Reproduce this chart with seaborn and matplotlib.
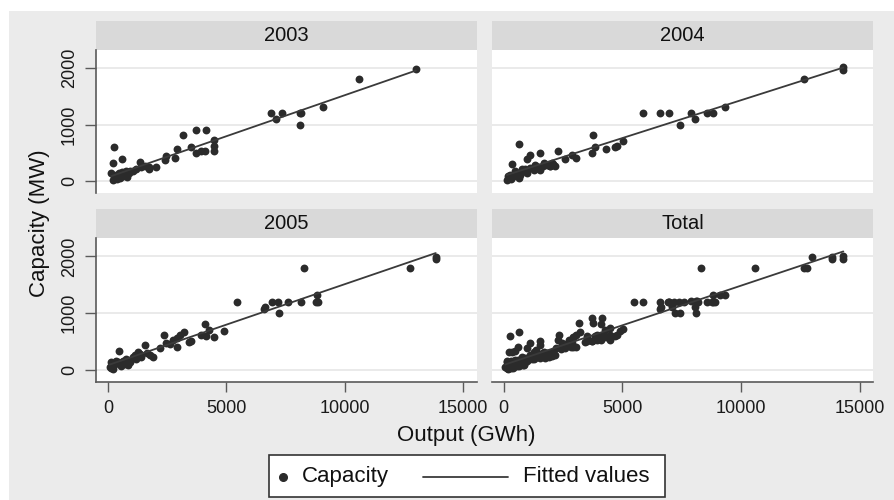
import numpy as np
import pandas as pd
import matplotlib
matplotlib.use("Agg")
import matplotlib.pyplot as plt
from matplotlib.patches import Rectangle
from matplotlib.lines import Line2D
import seaborn as sns

# ---------------- data ----------------
out03 = [13000, 10600, 9100, 8100, 8150, 8100, 6900, 7370, 7100, 4500, 4470, 4470, 3730, 4130,
         3170, 3740, 3950, 4090, 3500, 2920, 2470, 2820, 2400, 2040, 1730, 1730, 1370, 1410, 1200,
         1550, 1060, 280, 210, 590, 140, 210, 350, 420, 480, 550, 600, 650, 700, 780, 850, 900,
         300, 500, 750, 820, 950, 250, 400, 660]
cap03 = [1980, 1800, 1320, 1210, 1210, 1000, 1200, 1200, 1100, 730, 620, 530, 910, 910,
         820, 500, 530, 530, 600, 570, 440, 410, 370, 250, 210, 260, 350, 250, 210,
         280, 190, 600, 320, 400, 150, 30, 120, 80, 150, 100, 170, 90, 130, 110, 160, 140,
         60, 60, 180, 80, 190, 100, 40, 140]

out04 = [14300, 14300, 12650, 9300, 8830, 8550, 7890, 8060, 7430, 5860, 6590, 6970, 5020, 4700,
         4760, 4320, 3780, 3850, 3710, 3060, 2870, 2590, 2270, 1540, 1120, 980, 670, 350, 1940,
         2030, 140, 280, 560, 840, 1120, 1400, 1680, 1960, 2170, 420, 700, 980, 1260, 210, 490,
         770, 1330, 1820, 630, 1540, 180, 320, 900, 1450, 1700, 2100]
cap04 = [2010, 1960, 1800, 1320, 1200, 1200, 1210, 1100, 1000, 1200, 1200, 1200, 720, 600,
         620, 570, 820, 600, 500, 410, 470, 390, 530, 500, 470, 390, 660, 310, 265,
         320, 30, 120, 150, 180, 235, 235, 275, 275, 265, 90, 120, 150, 195, 60, 175,
         220, 295, 295, 60, 205, 90, 40, 210, 260, 320, 300]

out05 = [13840, 13840, 12750, 8290, 8810, 8780, 8880, 8170, 7610, 7190, 6950, 7230, 6620, 6580,
         5470, 4900, 4480, 4090, 4270, 3950, 4160, 3520, 3430, 3200, 3030, 2920, 2920, 2350,
         2610, 2190, 1900, 1760, 1550, 1270, 1410, 1200, 1060, 470, 750, 70, 140, 280, 420, 570,
         710, 850, 920, 330, 640, 200, 150, 1130, 1350, 1650, 2450, 2750]
cap05 = [1990, 1960, 1790, 1790, 1320, 1190, 1190, 1190, 1190, 1190, 1190, 1000, 1100, 1080,
         1190, 690, 580, 810, 710, 610, 600, 500, 490, 660, 610, 560, 400, 610,
         460, 380, 220, 260, 440, 310, 220, 190, 220, 330, 190, 50, 130, 90, 130, 60,
         100, 80, 130, 160, 160, 20, 40, 260, 280, 300, 470, 520]

panels = ["2003", "2004", "2005", "Total"]
x_ticks = [0, 5000, 10000, 15000]
y_ticks = [0, 1000, 2000]
x_label = "Output (GWh)"
y_label = "Capacity (MW)"
legend_labels = ["Capacity", "Fitted values"]

frames = []
for yr, o, c in [("2003", out03, cap03), ("2004", out04, cap04), ("2005", out05, cap05)]:
    frames.append(pd.DataFrame({"output": o, "capacity": c, "panel": yr}))
df_years = pd.concat(frames, ignore_index=True)
df_total = df_years.assign(panel="Total")
df = pd.concat([df_years, df_total], ignore_index=True)

# ---------------- styling ----------------
sns.set_style("white")
plt.rcParams["font.family"] = ["Liberation Sans", "DejaVu Sans"]

W, H = 895, 500
fig = plt.figure(figsize=(W / 100, H / 100), dpi=100, facecolor="white")
BG = "#ebebeb"
STRIP = "#d9d9d9"
DOT = "#2b2b2b"
LINE = "#3a3a3a"
AX = "#5a5a5a"

fig.patches.append(Rectangle((9 / W, 0), 1 - 9 / W, 1 - 11 / H, transform=fig.transFigure,
                             facecolor=BG, edgecolor="none", zorder=-10))

def fbox(x0, y0, x1, y1):
    return [x0 / W, 1 - y1 / H, (x1 - x0) / W, (y1 - y0) / H]

boxes = {
    "2003": fbox(96, 50, 476.7, 193.3),
    "2004": fbox(491.7, 50, 873.5, 193.3),
    "2005": fbox(96, 238.3, 476.7, 381.7),
    "Total": fbox(491.7, 238.3, 873.5, 381.7),
}
strip_px = 29

for i, p in enumerate(panels):
    ax = fig.add_axes(boxes[p])
    sub = df[df["panel"] == p]
    sns.regplot(data=sub, x="output", y="capacity", ax=ax, ci=None, truncate=True,
                scatter_kws=dict(s=32, color=DOT, linewidths=0, alpha=1, zorder=3),
                line_kws=dict(color=LINE, lw=1.3, zorder=4))
    ax.set_facecolor("white")
    ax.set_xlim(-500, 15570)
    ax.set_ylim(-210, 2318)
    ax.set_xticks(x_ticks)
    ax.set_yticks(y_ticks)
    ax.set_xlabel("")
    ax.set_ylabel("")
    for yv in y_ticks:
        ax.axhline(yv, color="#e6e6e6", lw=1.2, zorder=0)
    for s in ["top", "right"]:
        ax.spines[s].set_visible(False)
    left_col = i % 2 == 0
    bottom_row = i >= 2
    ax.spines["left"].set_visible(left_col)
    ax.spines["bottom"].set_visible(bottom_row)
    ax.spines["left"].set_color(AX)
    ax.spines["bottom"].set_color(AX)
    ax.spines["left"].set_linewidth(1.2)
    ax.spines["bottom"].set_linewidth(1.2)
    ax.tick_params(axis="y", left=left_col, labelleft=left_col, length=8, width=1,
                   color=AX, labelsize=13, pad=5, direction="out")
    ax.tick_params(axis="x", bottom=bottom_row, labelbottom=bottom_row, length=7, width=1,
                   color=AX, labelsize=13, pad=6, direction="out")
    if left_col:
        for lab in ax.get_yticklabels():
            lab.set_rotation(90)
            lab.set_va("center")
    ax.tick_params(labelcolor="#1a1a1a")
    # strip header
    h_ax = (boxes[p][3] * H)
    frac = strip_px / h_ax
    ax.add_patch(Rectangle((0, 1), 1, frac, transform=ax.transAxes, facecolor=STRIP,
                           edgecolor="none", clip_on=False, zorder=1))
    ax.text(0.5, 1 + frac / 2, p, transform=ax.transAxes, ha="center", va="center",
            fontsize=14.5, color="#111111")

fig.text(40 / W, 1 - 223.5 / H, y_label, rotation=90, ha="center", va="center",
         fontsize=16, color="#111111")
fig.text(466.7 / W, 1 - 435 / H, x_label, ha="center", va="center",
         fontsize=16, color="#111111")

# legend box
lx0, lx1, ly0, ly1 = 269.3, 665, 455, 497.3
fig.patches.append(Rectangle((lx0 / W, 1 - ly1 / H), (lx1 - lx0) / W, (ly1 - ly0) / H,
                             transform=fig.transFigure, facecolor="white",
                             edgecolor="#333333", lw=1.2, zorder=5))
yc = 1 - 476.5 / H
fig.add_artist(Line2D([283.3 / W], [yc], marker="o", markersize=5.5, color=DOT,
                      linestyle="none", transform=fig.transFigure, zorder=6))
fig.text(301.7 / W, yc, legend_labels[0], ha="left", va="center", fontsize=16,
         color="#111111", zorder=6)
fig.add_artist(Line2D([423.3 / W, 508.3 / W], [yc, yc], color=LINE, lw=1.3,
                      transform=fig.transFigure, zorder=6))
fig.text(522.7 / W, yc, legend_labels[1], ha="left", va="center", fontsize=16,
         color="#111111", zorder=6)

fig.savefig("out.png", dpi=100, facecolor="white")
